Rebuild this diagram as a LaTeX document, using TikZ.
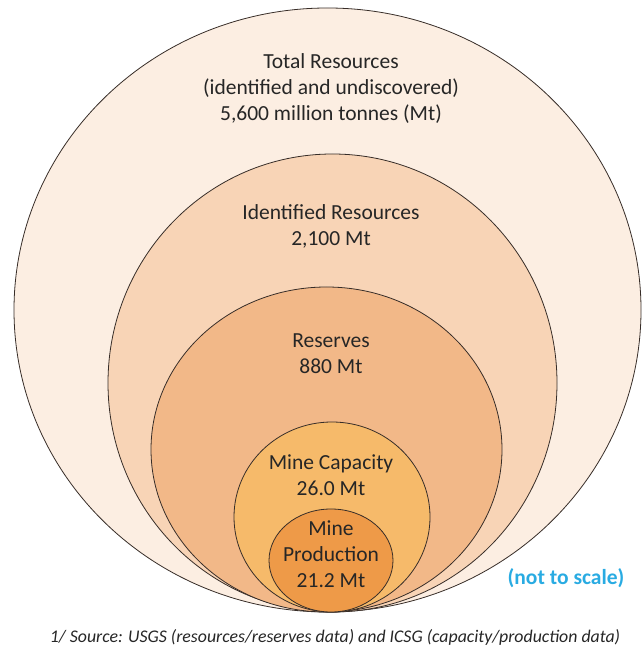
\documentclass[tikz,border=0pt]{standalone}
\usepackage{fontspec}
\setmainfont{Carlito}
\usepackage{tikz}
\usetikzlibrary{shapes.geometric, positioning}
\definecolor{totalpeach}{RGB}{252,238,226}
\definecolor{identpeach}{RGB}{248,212,182}
\definecolor{reserveorange}{RGB}{242,184,136}
\definecolor{capacityorange}{RGB}{246,186,106}
\definecolor{prodorange}{RGB}{238,154,72}
\definecolor{ringline}{RGB}{55,45,40}
\definecolor{labelgray}{RGB}{38,38,38}
\definecolor{scaleblue}{RGB}{41,171,226}

\begin{document}
\begin{tikzpicture}[x=1pt, y=1pt,
  ring/.style={ellipse, draw=ringline, line width=0.8pt, inner sep=0pt},
  ringtext/.style={align=center, text=labelgray, font=\fontsize{21.5}{26}\selectfont}]
  \useasboundingbox (0,0) rectangle (644,650);

  % nested resource ellipses, all touching at the bottom
  \node[ring, fill=totalpeach, minimum width=627pt, minimum height=604pt] (total) at (327.5,340) {};
  \node[ring, fill=identpeach, minimum width=449pt, minimum height=458pt] (ident) at (332.5,267) {};
  \node[ring, fill=reserveorange, minimum width=351pt, minimum height=325pt] (reserves) at (326.5,200.5) {};
  \node[ring, fill=capacityorange, minimum width=196pt, minimum height=190pt] (capacity) at (332,133) {};
  \node[ring, fill=prodorange, minimum width=124pt, minimum height=103pt] (production) at (331,89.5) {};

  % labels
  \node[ringtext] (totallbl) at (331,561.5) {Total Resources\\(identified and undiscovered)\\5,600 million tonnes (Mt)};
  \node[ringtext] (identlbl) at (331,424) {Identified Resources\\2,100 Mt};
  \node[ringtext] (reserveslbl) at (331,296.5) {Reserves\\880 Mt};
  \node[ringtext] (capacitylbl) at (331,175) {Mine Capacity\\26.0 Mt};
  \node[ringtext] (productionlbl) at (331,96) {Mine\\Production\\21.2 Mt};

  \node[text=scaleblue, font=\fontsize{21.5}{24}\selectfont\bfseries] (scalenote) at (566,72) {(not to scale)};
  \node[text=labelgray, font=\fontsize{17.8}{20}\selectfont\itshape] (source) at (335,13) {1/ Source: USGS (resources/reserves data) and ICSG (capacity/production data)};
\end{tikzpicture}
\end{document}
